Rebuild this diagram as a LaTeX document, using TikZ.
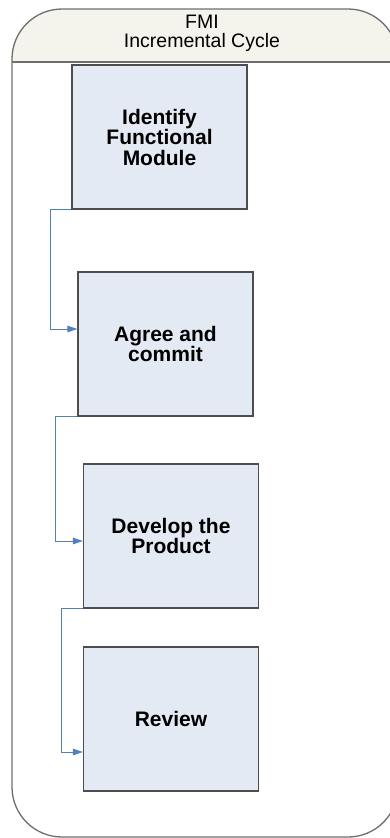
\documentclass[tikz,border=0pt]{standalone}
\usepackage{fontspec}
\setmainfont{Liberation Sans}
\usepackage{xcolor}
\usetikzlibrary{arrows.meta}
\definecolor{boxfill}{HTML}{E4EAF4}
\definecolor{boxline}{HTML}{4D4D4D}
\definecolor{frameline}{HTML}{6E6E6E}
\definecolor{headfill}{HTML}{F4F4EC}
\definecolor{flowblue}{HTML}{4F81BD}
\tikzset{
  stage/.style={draw=boxline,line width=1.2pt,fill=boxfill,minimum width=175pt,minimum height=144pt,
    inner sep=0pt,align=center,font=\bfseries\fontsize{21}{20.5}\selectfont},
  flow/.style={draw=flowblue,line width=1pt,-{Triangle[length=10pt,width=6.5pt]}}
}
\begin{document}
\begin{tikzpicture}[x=1pt,y=-1pt]
\useasboundingbox (0,0) rectangle (389,838);
\begin{scope}
\clip[rounded corners=50pt] (12,9) rectangle (398,837);
\fill[headfill] (12,9) rectangle (398,62);
\end{scope}
\draw[frameline,line width=1.3pt] (12,62) -- (398,62);
\draw[frameline,line width=1.3pt,rounded corners=50pt] (12,9) rectangle (398,837);
\node[font=\fontsize{19.5}{18.5}\selectfont,align=center] (title) at (202,33.5) {FMI\\Incremental Cycle};
\node[stage] (ifm) at (159.5,137) {Identify\\Functional\\Module};
\node[stage] (agc) at (165.5,344) {Agree and\\commit};
\node[stage] (dvp) at (171,536) {Develop the\\Product};
\node[stage] (rvw) at (171,719) {Review};
\draw[flow] (ifm.south west) -- ++(-21,0) |- ([yshift=15pt]agc.west);
\draw[flow] (agc.south west) -- ++(-22,0) |- ([yshift=-5pt]dvp.west);
\draw[flow] (dvp.south west) -- ++(-21,0) |- ([yshift=-33pt]rvw.west);
\end{tikzpicture}
\end{document}
